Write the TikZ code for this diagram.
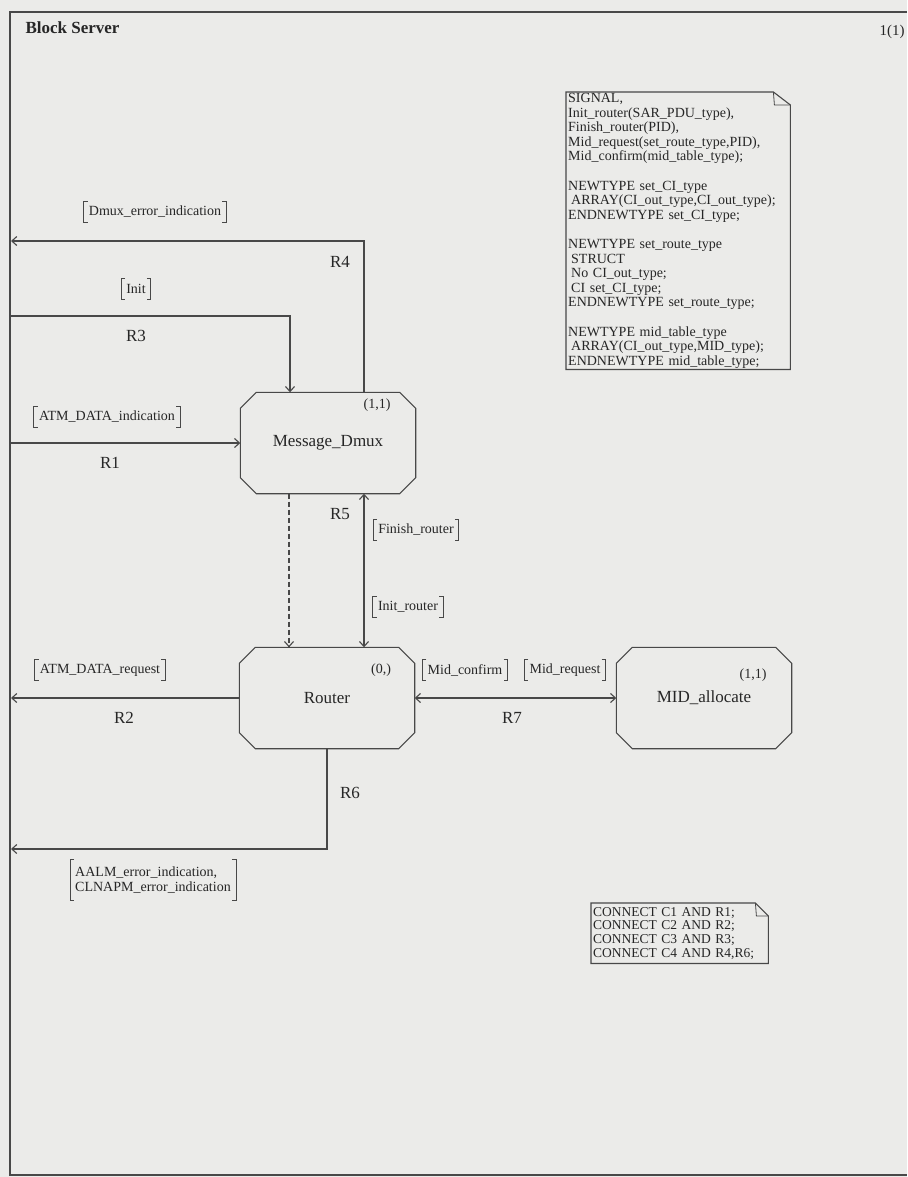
\documentclass[tikz,border=0pt]{standalone}
\usepackage{fontspec}
\setmainfont{Liberation Serif}
\usepackage{tikz}
\usetikzlibrary{arrows.meta,positioning,calc}

\definecolor{paper}{RGB}{235,235,233}
\definecolor{ink}{RGB}{72,72,72}
\definecolor{txt}{RGB}{38,38,38}

\begin{document}
\begin{tikzpicture}[x=1pt,y=-1pt,
  wire/.style={draw=ink, line width=1.1pt},
  chan/.style={wire, -{Straight Barb[length=5pt,width=9pt]}},
  bichan/.style={wire, {Straight Barb[length=5pt,width=9pt]}-{Straight Barb[length=5pt,width=9pt]}},
  process/.style={minimum width=175pt, minimum height=101pt, inner sep=0pt, font=\fontsize{17}{18}\selectfont, text=txt},
  siglist/.style={font=\fontsize{14}{14.5}\selectfont, text=txt, inner xsep=5pt, inner ysep=0pt, minimum height=20pt},
  rname/.style={font=\fontsize{17}{18}\selectfont, text=txt},
  mult/.style={font=\fontsize{14}{14}\selectfont, text=txt},
  textsym/.style={anchor=north west, align=left, text=txt, inner xsep=2pt}]
\fill[paper] (0,0) rectangle (907,1177);
\useasboundingbox (0,0) rectangle (907,1177);
\draw[wire] (907,12) -- (10,12) -- (10,1175) -- (907,1175);
\node[font=\bfseries\fontsize{17}{17}\selectfont, text=txt, anchor=west] (title) at (22,28) {Block Server};
\node[font=\fontsize{15}{15}\selectfont, text=txt] (page) at (892,32) {1(1)};

\node[process] (dmux) at (328,443) {Message\_Dmux};
\node[process] (router) at (327,698) {Router};
\node[process] (midalloc) at (704,698) {MID\_allocate};
\foreach \n in {dmux,router,midalloc} {
  \draw[wire] ([xshift=16pt]\n.north west) -- ([xshift=-16pt]\n.north east) -- ([yshift=-16pt]\n.north east)
    -- ([yshift=16pt]\n.south east) -- ([xshift=-16pt]\n.south east) -- ([xshift=16pt]\n.south west)
    -- ([yshift=16pt]\n.south west) -- ([yshift=-16pt]\n.north west) -- cycle;
}
\node[mult] (mdmux) at (377,405) {(1,1)};
\node[mult] (mrouter) at (381,670) {(0,)};
\node[mult] (mmid) at (753,675) {(1,1)};

\coordinate (c4) at (11,241);
\coordinate (c3) at (11,316);
\coordinate (c1) at (11,443);
\coordinate (c2) at (11,698);
\coordinate (c6) at (11,849);

\draw[chan] ([xshift=36pt]dmux.north) |- (c4);
\draw[chan] (c3) -| ([xshift=-38pt]dmux.north);
\draw[chan] (c1) -- (dmux.west);
\draw[bichan] ([xshift=36pt]dmux.south) -- ([xshift=37pt]router.north);
\draw[chan, dash pattern=on 5pt off 3pt] ([xshift=-39pt]dmux.south) -- ([xshift=-38pt]router.north);
\draw[chan] (router.west) -- (c2);
\draw[bichan] (router.east) -- (midalloc.west);
\draw[chan] (router.south) |- (c6);

\node[rname] (r4) at (340,262) {R4};
\node[rname] (r3) at (136,336) {R3};
\node[rname] (r1) at (110,463) {R1};
\node[rname] (r5) at (340,514) {R5};
\node[rname] (r2) at (124,718) {R2};
\node[rname] (r7) at (512,718) {R7};
\node[rname] (r6) at (350,793) {R6};

\node[siglist] (sdmuxerr) at (155,212) {Dmux\_error\_indication};
\node[siglist] (sinit) at (136,289) {Init};
\node[siglist] (satmind) at (107,417) {ATM\_DATA\_indication};
\node[siglist] (sfinish) at (416,530) {Finish\_router};
\node[siglist] (sinitr) at (408,607) {Init\_router};
\node[siglist] (smidconf) at (465,670) {Mid\_confirm};
\node[siglist] (smidreq) at (565,670) {Mid\_request};
\node[siglist] (satmreq) at (100,670) {ATM\_DATA\_request};
\node[siglist, align=left, minimum height=40pt] (serr) at (153,880) {AALM\_error\_indication,\\CLNAPM\_error\_indication};
\foreach \s in {sdmuxerr,sinit,satmind,sfinish,sinitr,smidconf,smidreq,satmreq,serr} {
  \draw[wire, line width=0.9pt] ([xshift=4pt]\s.north west) -- (\s.north west) -- (\s.south west) -- ([xshift=4pt]\s.south west);
  \draw[wire, line width=0.9pt] ([xshift=-4pt]\s.north east) -- (\s.north east) -- (\s.south east) -- ([xshift=-4pt]\s.south east);
}

\node[textsym, text width=220pt, inner ysep=1pt, font=\fontsize{14}{14.6}\selectfont] (decl) at (566,92) {SIGNAL,\\
Init\_router(SAR\_PDU\_type),\\
Finish\_router(PID),\\
Mid\_request(set\_route\_type,PID),\\
Mid\_confirm(mid\_table\_type);\\[14.6pt]
NEWTYPE set\_CI\_type\\
\hspace*{3pt}ARRAY(CI\_out\_type,CI\_out\_type);\\
ENDNEWTYPE set\_CI\_type;\\[14.6pt]
NEWTYPE set\_route\_type\\
\hspace*{3pt}STRUCT\\
\hspace*{3pt}No CI\_out\_type;\\
\hspace*{3pt}CI set\_CI\_type;\\
ENDNEWTYPE set\_route\_type;\\[14.6pt]
NEWTYPE mid\_table\_type\\
\hspace*{3pt}ARRAY(CI\_out\_type,MID\_type);\\
ENDNEWTYPE mid\_table\_type;};
\node[textsym, text width=173pt, inner ysep=4pt, font=\fontsize{13.5}{13.7}\selectfont] (conn) at (591,903) {CONNECT C1 AND R1;\\
CONNECT C2 AND R2;\\
CONNECT C3 AND R3;\\
CONNECT C4 AND R4,R6;};
\foreach \t/\w/\h in {decl/17/13,conn/13/13} {
  \draw[wire] (\t.north west) -- ([xshift=-\w pt]\t.north east) -- ([yshift=-\h pt]\t.north east) -- (\t.south east) -- (\t.south west) -- cycle;
  \draw[wire, line width=0.8pt] ([xshift=-\w pt]\t.north east) -- ([xshift=-\w pt+1pt,yshift=-\h pt]\t.north east) -- ([yshift=-\h pt]\t.north east);
}
\end{tikzpicture}
\end{document}
